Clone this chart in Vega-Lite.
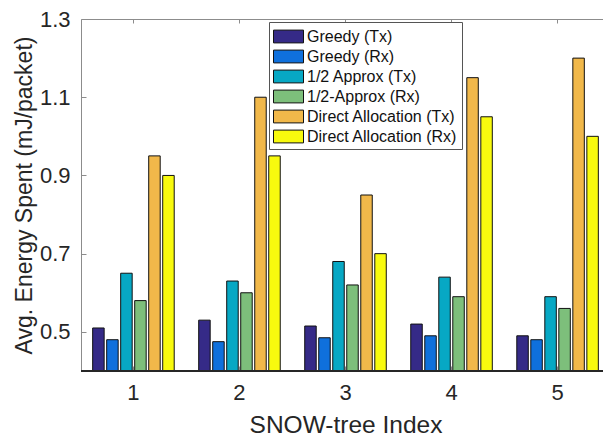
{
  "$schema": "https://vega.github.io/schema/vega-lite/v6.json",
  "width": 523,
  "height": 352,
  "autosize": {"type": "none"},
  "padding": {"left": 81, "top": 19, "right": 0, "bottom": 68},
  "background": "white",
  "config": {
    "font": "Liberation Sans",
    "view": {"stroke": "#8c8c8c", "strokeWidth": 1},
    "axis": {"labelColor": "#262626", "titleColor": "#262626", "labelFont": "Liberation Sans", "titleFont": "Liberation Sans", "titleFontWeight": "normal", "grid": false}
  },
  "data": {
    "values": [
      {"index": "1", "series": "Greedy (Tx)", "value": 0.51},
      {"index": "1", "series": "Greedy (Rx)", "value": 0.48},
      {"index": "1", "series": "1/2 Approx (Tx)", "value": 0.65},
      {"index": "1", "series": "1/2-Approx (Rx)", "value": 0.58},
      {"index": "1", "series": "Direct Allocation (Tx)", "value": 0.95},
      {"index": "1", "series": "Direct Allocation (Rx)", "value": 0.90},
      {"index": "2", "series": "Greedy (Tx)", "value": 0.53},
      {"index": "2", "series": "Greedy (Rx)", "value": 0.475},
      {"index": "2", "series": "1/2 Approx (Tx)", "value": 0.63},
      {"index": "2", "series": "1/2-Approx (Rx)", "value": 0.60},
      {"index": "2", "series": "Direct Allocation (Tx)", "value": 1.10},
      {"index": "2", "series": "Direct Allocation (Rx)", "value": 0.95},
      {"index": "3", "series": "Greedy (Tx)", "value": 0.515},
      {"index": "3", "series": "Greedy (Rx)", "value": 0.485},
      {"index": "3", "series": "1/2 Approx (Tx)", "value": 0.68},
      {"index": "3", "series": "1/2-Approx (Rx)", "value": 0.62},
      {"index": "3", "series": "Direct Allocation (Tx)", "value": 0.85},
      {"index": "3", "series": "Direct Allocation (Rx)", "value": 0.70},
      {"index": "4", "series": "Greedy (Tx)", "value": 0.52},
      {"index": "4", "series": "Greedy (Rx)", "value": 0.49},
      {"index": "4", "series": "1/2 Approx (Tx)", "value": 0.64},
      {"index": "4", "series": "1/2-Approx (Rx)", "value": 0.59},
      {"index": "4", "series": "Direct Allocation (Tx)", "value": 1.15},
      {"index": "4", "series": "Direct Allocation (Rx)", "value": 1.05},
      {"index": "5", "series": "Greedy (Tx)", "value": 0.49},
      {"index": "5", "series": "Greedy (Rx)", "value": 0.48},
      {"index": "5", "series": "1/2 Approx (Tx)", "value": 0.59},
      {"index": "5", "series": "1/2-Approx (Rx)", "value": 0.56},
      {"index": "5", "series": "Direct Allocation (Tx)", "value": 1.20},
      {"index": "5", "series": "Direct Allocation (Rx)", "value": 1.00}
    ]
  },
  "layer": [
    {
      "mark": {"type": "bar", "clip": true, "stroke": "#111111", "strokeWidth": 1},
      "encoding": {
        "x": {
          "field": "index", "type": "ordinal",
          "scale": {"paddingInner": 0.231, "paddingOuter": 0.11, "rangeMax": 529},
          "axis": {"title": "SNOW-tree Index", "labelAngle": 0, "labelFontSize": 22, "titleFontSize": 24.5, "domain": false, "ticks": true, "tickSize": -5, "tickColor": "#8c8c8c", "labelPadding": 16, "titlePadding": 10}
        },
        "xOffset": {
          "field": "series", "type": "nominal",
          "sort": ["Greedy (Tx)", "Greedy (Rx)", "1/2 Approx (Tx)", "1/2-Approx (Rx)", "Direct Allocation (Tx)", "Direct Allocation (Rx)"],
          "scale": {"paddingInner": 0.18, "paddingOuter": 0}
        },
        "y": {
          "field": "value", "type": "quantitative",
          "scale": {"domain": [0.4, 1.3], "zero": false, "nice": false},
          "axis": {"title": "Avg. Energy Spent (mJ/packet)", "values": [0.5, 0.7, 0.9, 1.1, 1.3], "format": ".1f", "labelFontSize": 22, "titleFontSize": 23, "domain": false, "tickSize": -5, "tickColor": "#8c8c8c", "labelPadding": 16, "titlePadding": 3}
        },
        "color": {
          "field": "series", "type": "nominal",
          "scale": {
            "domain": ["Greedy (Tx)", "Greedy (Rx)", "1/2 Approx (Tx)", "1/2-Approx (Rx)", "Direct Allocation (Tx)", "Direct Allocation (Rx)"],
            "range": ["#352a87", "#0f70dc", "#07a8c4", "#7dbf7b", "#f1b84a", "#f8fa0e"]
          },
          "legend": {
            "title": null, "orient": "none", "legendX": 188, "legendY": 3,
            "fillColor": "white", "strokeColor": "#555555", "padding": 4,
            "symbolType": "M-1,-0.64H2V0.64H-1Z", "symbolSize": 400,
            "symbolStrokeColor": "#111111", "symbolStrokeWidth": 1, "symbolOpacity": 1,
            "labelFontSize": 16, "labelFont": "Liberation Sans", "labelColor": "#111111",
            "labelOffset": 13, "rowPadding": 1
          }
        }
      }
    },
    {
      "mark": {"type": "point", "opacity": 0},
      "encoding": {
        "x": {
          "field": "index", "type": "ordinal",
          "axis": {"orient": "top", "title": null, "labels": false, "domain": false, "tickSize": -4, "tickColor": "#8c8c8c"}
        }
      }
    },
    {
      "mark": {"type": "rule", "color": "#262626", "strokeWidth": 1},
      "encoding": {"y": {"datum": 0.4}}
    }
  ],
  "resolve": {"axis": {"x": "independent"}}
}
